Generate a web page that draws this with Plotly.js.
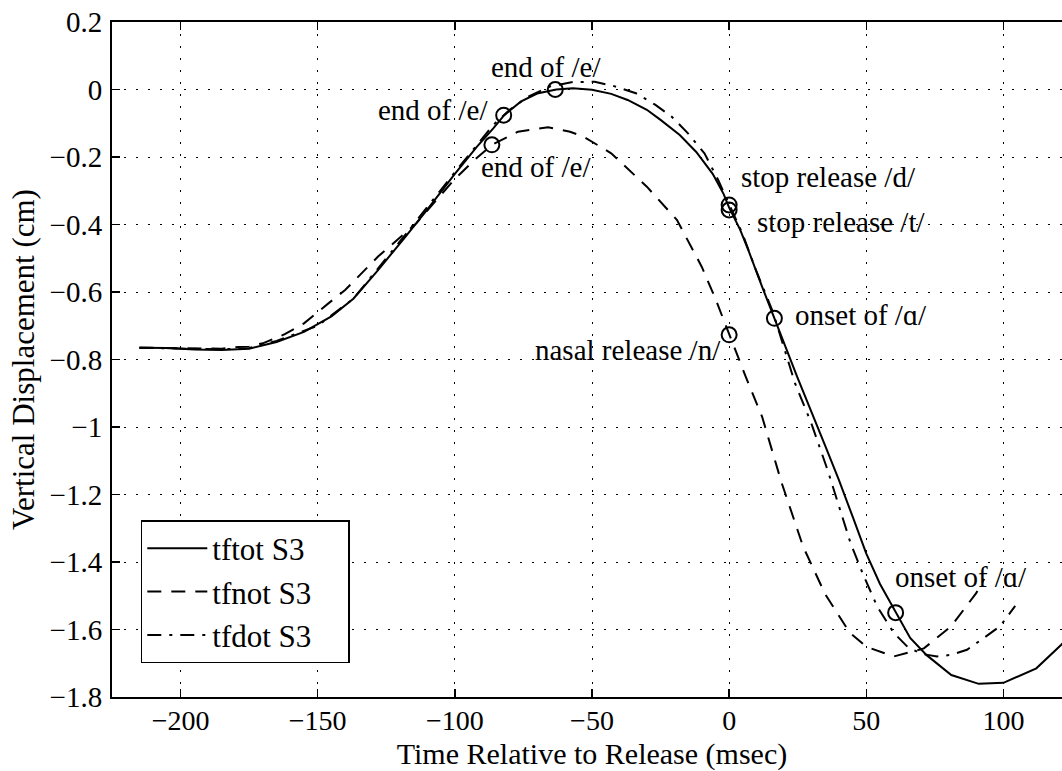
<!DOCTYPE html>
<html>
<head>
<meta charset="utf-8">
<script src="https://cdn.plot.ly/plotly-3.0.1.min.js"></script>
<style>
html,body{margin:0;padding:0;overflow:hidden;background:#fff;}
#chart{width:1080px;height:771px;}
</style>
</head>
<body>
<div id="chart"></div>
<script>
// ---- data ----
const seriesNames = ["tftot S3", "tfnot S3", "tfdot S3"];

const tftotX = [-215,-205,-195,-185,-175,-165,-155,-145,-137,-128,-119,-110,-100,-92,-86,-82,-76,-70,-63,-57,-50,-43,-37,-30,-25,-18,-12,-6,-2,0,4,7,12,16.5,25,35,40,45,50,55,61,66,72,81,91,100,112,121,125];
const tftotY = [-0.765,-0.766,-0.770,-0.772,-0.768,-0.748,-0.718,-0.672,-0.620,-0.535,-0.446,-0.355,-0.250,-0.170,-0.115,-0.076,-0.036,-0.012,0.000,0.004,-0.001,-0.013,-0.031,-0.060,-0.090,-0.135,-0.185,-0.250,-0.310,-0.350,-0.415,-0.476,-0.584,-0.678,-0.855,-1.055,-1.157,-1.265,-1.375,-1.465,-1.550,-1.625,-1.676,-1.735,-1.761,-1.758,-1.715,-1.646,-1.610];

const tfnotX = [-215,-200,-185,-175,-170,-162,-155,-146,-140,-128,-114,-107,-100,-93,-86.5,-77,-66,-58,-53,-43,-30,-19,-10,-5,0,6,12,19,27,35,44,50,60,71,81,90,93];
const tfnotY = [-0.765,-0.766,-0.768,-0.760,-0.752,-0.725,-0.693,-0.633,-0.594,-0.495,-0.396,-0.330,-0.265,-0.210,-0.164,-0.125,-0.112,-0.125,-0.140,-0.189,-0.288,-0.387,-0.525,-0.620,-0.727,-0.850,-0.969,-1.162,-1.355,-1.495,-1.610,-1.651,-1.680,-1.656,-1.590,-1.493,-1.450];

const tfdotX = [-215,-200,-185,-175,-165,-150,-137,-119,-100,-86,-80,-73,-65,-57,-49,-42,-34,-27,-21,-15,-9,-4,0,5,10,16,24,30,36,40.7,44.3,49,54,60,65,70,75.8,81,86.7,92,98.8,104.3];
const tfdotY = [-0.765,-0.767,-0.770,-0.766,-0.745,-0.700,-0.620,-0.440,-0.245,-0.105,-0.060,-0.020,0.010,0.022,0.023,0.010,-0.011,-0.045,-0.080,-0.130,-0.189,-0.268,-0.342,-0.430,-0.540,-0.660,-0.870,-0.990,-1.130,-1.256,-1.345,-1.440,-1.532,-1.610,-1.651,-1.672,-1.680,-1.675,-1.660,-1.630,-1.590,-1.530];

// labelled events (open circles)
const eventX = [-63.4, -82.2, -86.5, 0, 0, 0, 16.5, 60.7];
const eventY = [0.000, -0.076, -0.164, -0.342, -0.357, -0.727, -0.678, -1.550];
const eventLabels = ["end of /e/", "end of /e/", "end of /e/", "stop release /d/", "stop release /t/", "nasal release /n/", "onset of /\u0251/", "onset of /\u0251/"];

const xTickVals = [-200,-150,-100,-50,0,50,100];
const yTickVals = [0.2,0,-0.2,-0.4,-0.6,-0.8,-1,-1.2,-1.4,-1.6,-1.8];

// ---- presentation ----
const FONT = "'Liberation Serif', 'Times New Roman', serif";
const LEGEND_PAD = "\u00a0\u00a0\u00a0\u00a0"; // right padding inside the legend box
const labelPlacement = [
  {xanchor:"center", xshift:-9,  yshift:23},
  {xanchor:"right",  xshift:-14, yshift:5},
  {xanchor:"left",   xshift:-13, yshift:-22},
  {xanchor:"left",   xshift:10,  yshift:28},
  {xanchor:"left",   xshift:26,  yshift:-12},
  {xanchor:"right",  xshift:-6,  yshift:-15},
  {xanchor:"left",   xshift:19,  yshift:3},
  {xanchor:"left",   xshift:-3,  yshift:36}
];

const traces = [
  {x: tftotX, y: tftotY, name: seriesNames[0] + LEGEND_PAD, mode: "lines", line: {color: "#000", width: 2, dash: "solid"}},
  {x: tfnotX, y: tfnotY, name: seriesNames[1] + LEGEND_PAD, mode: "lines", line: {color: "#000", width: 2, dash: "14px,10px"}},
  {x: tfdotX, y: tfdotY, name: seriesNames[2] + LEGEND_PAD, mode: "lines", line: {color: "#000", width: 2, dash: "14px,8px,3px,8px"}},
  {x: eventX, y: eventY, mode: "markers", showlegend: false, hoverinfo: "skip",
   marker: {symbol: "circle-open", size: 15, color: "#000", line: {width: 2, color: "#000"}}}
];

const annotations = eventLabels.map((t, i) => Object.assign({
  x: eventX[i], y: eventY[i], xref: "x", yref: "y", text: t, showarrow: false,
  yanchor: "middle", font: {family: FONT, size: 29, color: "#000"}
}, labelPlacement[i]));

const axisCommon = {
  showline: true, linecolor: "#000", linewidth: 2, mirror: "ticks",
  ticks: "inside", ticklen: 8, tickwidth: 1.5, tickcolor: "#000",
  showgrid: true, gridcolor: "#000", gridwidth: 1, griddash: "2px,10px",
  zeroline: false, tickfont: {family: FONT, size: 29, color: "#000"},
  automargin: false
};

const layout = {
  width: 1080, height: 771,
  margin: {l: 112, r: 8, t: 22, b: 74},
  paper_bgcolor: "#fff", plot_bgcolor: "#fff",
  font: {family: FONT, color: "#000"},
  showlegend: true,
  xaxis: Object.assign({}, axisCommon, {
    range: [-225, 125], tickmode: "array", tickvals: xTickVals,
    ticklabelstandoff: -3,
    tickfont: {family: FONT, size: 28, color: "#000"},
    title: {text: "Time Relative to Release (msec)", font: {family: FONT, size: 30, color: "#000"}, standoff: 10}
  }),
  yaxis: Object.assign({}, axisCommon, {
    range: [-1.8, 0.2], tickmode: "array", tickvals: yTickVals,
    ticktext: yTickVals.map(v => v === 0 ? "0" : (v < 0 ? "\u2212" : "") + String(Math.abs(v))),
    ticklabelstandoff: 2,
    title: {text: "Vertical Displacement (cm)", font: {family: FONT, size: 31, color: "#000"}, standoff: 6}
  }),
  legend: {
    x: 0.03, y: 0.262, xanchor: "left", yanchor: "top",
    bgcolor: "#fff", bordercolor: "#000", borderwidth: 1.5,
    font: {family: FONT, size: 31, color: "#000"},
    itemwidth: 60, tracegroupgap: 0
  },
  annotations: annotations
};

Plotly.newPlot("chart", traces, layout, {displayModeBar: false, staticPlot: true});
</script>
</body>
</html>
